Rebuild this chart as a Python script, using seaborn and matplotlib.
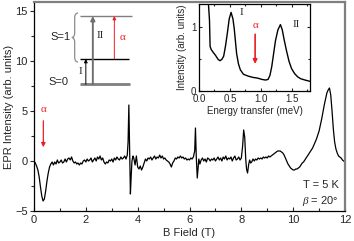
import numpy as np
import pandas as pd
import matplotlib
matplotlib.use("Agg")
import matplotlib.pyplot as plt
import seaborn as sns
from matplotlib.ticker import MultipleLocator
from matplotlib.path import Path
from matplotlib.patches import PathPatch

# ---------------- data ----------------
b_field = [0.00, 0.05, 0.10, 0.15, 0.20, 0.25, 0.30, 0.35, 0.40, 0.45, 0.50, 0.55, 0.60, 0.65,
           0.70, 0.75, 0.80, 0.85, 0.90, 0.95, 1.00, 1.05, 1.10, 1.15, 1.20, 1.25, 1.30, 1.35,
           1.40, 1.45, 1.50, 1.55, 1.60, 1.65, 1.70, 1.75, 1.80, 1.85, 1.90, 1.95, 2.00, 2.05,
           2.10, 2.15, 2.20, 2.25, 2.30, 2.35, 2.40, 2.45, 2.50, 2.55, 2.60, 2.65, 2.70, 2.75,
           2.80, 2.85, 2.90, 2.95, 3.00, 3.05, 3.10, 3.15, 3.20, 3.25, 3.30, 3.35, 3.40, 3.45,
           3.50, 3.55, 3.60, 3.63, 3.66, 3.68, 3.70, 3.72, 3.75, 3.78, 3.82, 3.85, 3.90, 3.95,
           4.00, 4.05, 4.10, 4.15, 4.20, 4.25, 4.30, 4.35, 4.40, 4.45, 4.50, 4.55, 4.60, 4.65,
           4.70, 4.75, 4.80, 4.85, 4.90, 4.95, 5.00, 5.05, 5.10, 5.15, 5.20, 5.25, 5.30, 5.35,
           5.40, 5.45, 5.50, 5.55, 5.60, 5.65, 5.70, 5.75, 5.80, 5.85, 5.90, 5.95, 6.00, 6.05,
           6.10, 6.15, 6.20, 6.23, 6.26, 6.30, 6.33, 6.36, 6.40, 6.45, 6.50, 6.55, 6.60, 6.65,
           6.70, 6.75, 6.80, 6.85, 6.90, 6.95, 7.00, 7.05, 7.10, 7.15, 7.20, 7.25, 7.30, 7.35,
           7.40, 7.45, 7.50, 7.55, 7.60, 7.65, 7.70, 7.75, 7.80, 7.85, 7.90, 7.95, 8.00, 8.05,
           8.09, 8.13, 8.17, 8.20, 8.24, 8.28, 8.32, 8.36, 8.40, 8.45, 8.50, 8.55, 8.60, 8.65,
           8.70, 8.75, 8.80, 8.85, 8.90, 8.95, 9.00, 9.05, 9.10, 9.15, 9.20, 9.25, 9.30, 9.35,
           9.40, 9.45, 9.50, 9.55, 9.60, 9.65, 9.70, 9.75, 9.80, 9.85, 9.90, 9.95, 10.00, 10.05,
           10.10, 10.15, 10.20, 10.25, 10.30, 10.35, 10.40, 10.45, 10.50, 10.55, 10.60, 10.65,
           10.70, 10.75, 10.80, 10.85, 10.90, 10.95, 11.00, 11.05, 11.10, 11.15, 11.20, 11.25,
           11.30, 11.35, 11.40, 11.45, 11.50, 11.55, 11.60, 11.65, 11.70, 11.75, 11.80, 11.85,
           11.90, 11.95, 12.00]
epr_intensity = [0.0, -0.2, -0.5, -0.9, -1.6, -2.6, -3.5, -4.0, -3.8, -3.0, -2.0, -1.2, -0.6, -0.3,
                 -0.1, -0.4, -0.1, -0.3, 0.1, -0.2, -0.1, 0.1, -0.2, -0.1, 0.2, -0.1, 0.2, 0.3,
                 0.1, 0.4, 0.0, -0.2, -0.1, -0.3, -0.2, -0.4, -0.2, -0.3, 0.0, 0.1, -0.1, 0.2,
                 0.0, 0.1, 0.3, -0.1, 0.1, 0.3, 0.0, 0.4, 0.2, 0.5, 0.1, 0.3, -0.1, -0.3,
                 -0.1, -0.2, 0.1, 0.0, 0.2, -0.1, 0.3, 0.1, 0.4, 0.2, 0.1, 0.4, 0.2, 0.3,
                 0.5, 0.2, 0.6, 1.9, 5.6, 2.5, -1.0, -3.3, -1.5, 0.0, 0.5, 0.3, -0.4, 0.5,
                 -0.6, -0.8, -0.5, -0.9, -0.6, -0.2, 0.2, 0.0, 0.3, 0.2, 0.4, 0.1, 0.3, 0.5,
                 0.2, 0.4, 0.3, 0.6, 0.3, 0.5, 0.2, 0.3, 0.1, 0.0, -0.1, -0.3, -0.6, -0.2,
                 0.0, 0.3, 0.2, 0.4, 0.3, 0.5, 0.3, 0.4, 0.2, 0.3, 0.1, 0.2, 0.1, 0.3,
                 0.2, 0.4, 1.0, 3.3, 0.5, -1.7, -0.8, 0.2, -0.3, 0.1, 0.3, 0.0, 0.2, -0.1,
                 0.3, 0.2, 0.0, 0.2, 0.1, 0.3, 0.0, 0.2, 0.4, 0.1, 0.3, 0.0, 0.4, 0.2,
                 0.5, 0.1, 0.3, 0.2, 0.4, 0.0, 0.3, 0.5, 0.1, 0.2, 0.4, 0.1, 0.3, 1.5,
                 3.1, 2.4, 0.2, -0.8, -1.2, -0.4, 0.1, -0.2, -0.1, 0.2, 0.0, 0.2, 0.1, 0.3,
                 0.2, 0.3, 0.2, 0.4, 0.3, 0.4, 0.3, 0.5, 0.4, 0.5, 0.6, 0.7, 0.8, 0.9,
                 1.0, 1.0, 1.0, 0.9, 0.8, 0.6, 0.3, 0.0, -0.3, -0.5, -0.7, -0.8, -0.9, -0.9,
                 -0.8, -0.8, -0.7, -0.6, -0.4, -0.2, -0.1, 0.1, 0.3, 0.5, 0.7, 0.9,
                 1.1, 1.3, 1.6, 1.9, 2.2, 2.6, 3.0, 3.6, 4.2, 4.9, 5.6, 6.2,
                 6.8, 7.1, 7.3, 6.6, 5.0, 3.2, 1.9, 1.2, 0.8, 0.5, 0.4, 0.3,
                 0.1, 0.0, -0.1]

energy_mev = [0.15, 0.17, 0.18, 0.20, 0.23, 0.27, 0.31, 0.34, 0.37, 0.40, 0.43, 0.46, 0.49, 0.52,
              0.55, 0.57, 0.59, 0.61, 0.64, 0.67, 0.72, 0.80, 0.88, 0.95, 1.02, 1.08, 1.12, 1.15,
              1.18, 1.21, 1.24, 1.28, 1.32, 1.35, 1.38, 1.42, 1.46, 1.50, 1.55, 1.60, 1.65, 1.72,
              1.80]
ins_intensity = [1.40, 1.10, 0.69, 0.64, 0.60, 0.55, 0.49, 0.47, 0.49, 0.54, 0.70, 0.90, 1.12, 1.22,
                 1.12, 0.98, 0.78, 0.58, 0.42, 0.33, 0.26, 0.23, 0.21, 0.20, 0.18, 0.17, 0.18, 0.24,
                 0.38, 0.58, 0.78, 0.95, 1.03, 0.95, 0.80, 0.62, 0.46, 0.35, 0.27, 0.22, 0.19, 0.17,
                 0.15]

main_xticks = [0, 2, 4, 6, 8, 10, 12]
main_yticks = [-5, 0, 5, 10, 15]
inset_xticks = [0.0, 0.5, 1.0, 1.5]
inset_yticks = [0, 1]

# ---------------- style ----------------
sns.set_style("ticks")
plt.rcParams['font.family'] = ['Liberation Sans', 'DejaVu Sans']
plt.rcParams['mathtext.fontset'] = 'custom'
plt.rcParams['mathtext.it'] = 'Liberation Serif:italic'
RED = '#ee1c24'
SERIF = ['Liberation Serif', 'DejaVu Serif']

fig = plt.figure(figsize=(3.54, 2.41), dpi=100)
ax = fig.add_axes([34/354, 1 - 211/241, (345-34)/354, (211-2)/241])

df_main = pd.DataFrame({"B": b_field, "I": epr_intensity})
sns.lineplot(data=df_main, x="B", y="I", ax=ax, color='black', lw=0.9, estimator=None, sort=False)
ax.set_xlim(0, 12)
ax.set_ylim(-5, 15.9)
ax.set_xticks(main_xticks)
ax.set_yticks(main_yticks)
ax.xaxis.set_minor_locator(MultipleLocator(1))
ax.yaxis.set_minor_locator(MultipleLocator(2.5))
ax.tick_params(axis='x', which='both', direction='in', labelsize=8, pad=3)
ax.tick_params(axis='x', which='major', length=3, width=0.8)
ax.tick_params(axis='x', which='minor', length=2, width=0.8)
ax.tick_params(axis='y', which='major', direction='out', length=3, width=0.8, labelsize=8, pad=1.5)
ax.tick_params(axis='y', which='minor', direction='out', length=2, width=0.8)
ax.set_xlabel("B Field (T)", fontsize=8, labelpad=2)
ax.set_ylabel("EPR Intensity (arb. units)", fontsize=8, labelpad=1)
for s in ['left', 'bottom']:
    ax.spines[s].set_linewidth(0.9)
    ax.spines[s].set_color('black')
for s in ['top', 'right']:
    ax.spines[s].set_linewidth(1.6)
    ax.spines[s].set_color('#7f7f7f')

# red alpha arrow (main)
ax.annotate("", xy=(0.36, 1.1), xytext=(0.36, 4.3),
            arrowprops=dict(arrowstyle='-|>', color=RED, lw=0.9, mutation_scale=6))
ax.text(0.36, 5.1, "α", color=RED, ha='center', va='center', fontsize=8, family=SERIF)

# T and beta annotation
ax.text(11.75, -2.4, "T = 5 K", ha='right', va='center', fontsize=8)
ax.text(11.75, -3.95, r"$\it{\beta}$ = 20°", ha='right', va='center', fontsize=8)

# energy level diagram
ax.hlines(14.5, 1.78, 3.77, color='#7f7f7f', lw=1.0)
ax.hlines(10.2, 1.78, 3.68, color='black', lw=1.0)
ax.hlines(7.67, 1.78, 3.72, color='#7f7f7f', lw=2.0)
ax.annotate("", xy=(2.0, 10.2), xytext=(2.0, 7.67),
            arrowprops=dict(arrowstyle='-|>', color='black', lw=0.7, mutation_scale=5,
                            shrinkA=0, shrinkB=0))
ax.annotate("", xy=(2.27, 14.5), xytext=(2.27, 7.67),
            arrowprops=dict(arrowstyle='-|>', color='#6f6f6f', lw=1.4, mutation_scale=6,
                            shrinkA=0, shrinkB=0))
ax.annotate("", xy=(3.1, 14.5), xytext=(3.1, 10.2),
            arrowprops=dict(arrowstyle='-|>', color=RED, lw=0.7, mutation_scale=5,
                            shrinkA=0, shrinkB=0))
ax.text(1.40, 12.4, "S=1", ha='right', va='center', fontsize=8)
ax.text(1.32, 7.9, "S=0", ha='right', va='center', fontsize=8)
ax.text(2.55, 12.5, "II", ha='center', va='center', fontsize=8, family=SERIF)
ax.text(1.80, 9.0, "I", ha='center', va='center', fontsize=8, family=SERIF)
ax.text(3.42, 12.3, "α", color=RED, ha='center', va='center', fontsize=8, family=SERIF)

# curly brace for the S=1 manifold
bx_end, bx_mid, bx_tip = 1.70, 1.57, 1.46
by_top, by_mid, by_bot = 14.8, 12.35, 9.9
verts = [(bx_end, by_top), (bx_mid, by_top), (bx_mid, by_top - 0.5),
         (bx_mid, by_mid + 0.5), (bx_mid, by_mid), (bx_tip, by_mid),
         (bx_mid, by_mid), (bx_mid, by_mid - 0.5),
         (bx_mid, by_bot + 0.5), (bx_mid, by_bot), (bx_end, by_bot)]
codes = [Path.MOVETO, Path.CURVE3, Path.CURVE3,
         Path.LINETO, Path.CURVE3, Path.CURVE3,
         Path.CURVE3, Path.CURVE3,
         Path.LINETO, Path.CURVE3, Path.CURVE3]
ax.add_patch(PathPatch(Path(verts, codes), fill=False, edgecolor='#8c8c8c', lw=0.9))

# ---------------- inset ----------------
ins = fig.add_axes([199/354, 1 - 91/241, (310-199)/354, (91-4)/241])
df_ins = pd.DataFrame({"E": energy_mev, "I": ins_intensity})
sns.lineplot(data=df_ins, x="E", y="I", ax=ins, color='black', lw=1.0, estimator=None, sort=False)
ins.set_xlim(0, 1.8)
ins.set_ylim(0, 1.35)
ins.set_xticks(inset_xticks)
ins.set_xticklabels(["0.0", "0.5", "1.0", "1.5"])
ins.set_yticks(inset_yticks)
ins.xaxis.set_minor_locator(MultipleLocator(0.25))
ins.yaxis.set_minor_locator(MultipleLocator(0.5))
ins.tick_params(axis='both', which='both', direction='in', top=True, right=True,
                labelsize=7, pad=2)
ins.tick_params(which='major', length=2.5, width=0.8)
ins.tick_params(which='minor', length=1.5, width=0.8)
ins.tick_params(axis='x', pad=2.5)
ins.set_xlabel("Energy transfer (meV)", fontsize=7, labelpad=1)
ins.set_ylabel("Intensity (arb. units)", fontsize=7, labelpad=3)
for s in ins.spines.values():
    s.set_linewidth(0.9)
    s.set_color('black')
ins.annotate("", xy=(0.91, 0.42), xytext=(0.91, 0.88),
             arrowprops=dict(arrowstyle='-|>', color=RED, lw=1.2, mutation_scale=6,
                             shrinkA=0, shrinkB=0))
ins.text(0.91, 1.02, "α", color=RED, ha='center', va='center', fontsize=8, family=SERIF)
ins.text(0.69, 1.22, "I", ha='center', va='center', fontsize=8, family=SERIF)
ins.text(1.58, 1.03, "II", ha='center', va='center', fontsize=8, family=SERIF)

fig.savefig("out.png", dpi=100)
